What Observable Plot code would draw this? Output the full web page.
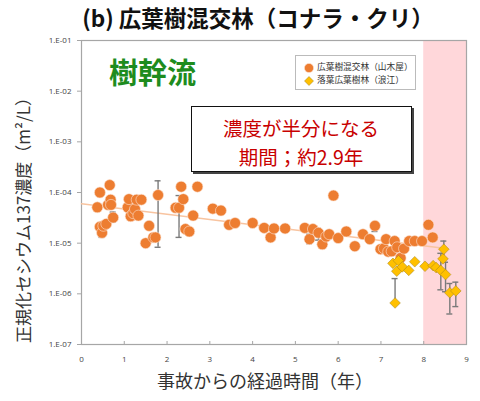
<!DOCTYPE html>
<html>
<head>
<meta charset="utf-8">
<script src="https://cdn.jsdelivr.net/npm/d3@7"></script>
<script src="https://cdn.jsdelivr.net/npm/@observablehq/plot@0.6"></script>
<style>
  body { margin: 0; background: #fff; font-family: "Noto Sans CJK JP", sans-serif; }
  #wrap { position: relative; width: 480px; height: 401px; overflow: hidden; }
  #wrap svg { position: absolute; left: 0; top: 0; }
  .ov { position: absolute; white-space: nowrap; line-height: 1; }
  #title { left: 258px; top: 17px; font-size: 22.5px; font-weight: bold; color: #111; transform: translate(-50%, -50%); }
  #ylab { left: 22px; top: 216px; font-size: 17px; color: #333; transform: translate(-50%, -50%) rotate(-90deg); }
  #xlab { left: 265px; top: 380px; font-size: 18px; color: #333; transform: translate(-50%, -50%); }
  #stem { left: 109px; top: 57px; font-size: 29px; font-weight: bold; color: #1e8c1e; }
  #legend { left: 295px; top: 55px; width: 121px; height: 35px; border: 1px solid #bbb; background: #fff; box-sizing: border-box; }
  #legend div { position: absolute; left: 21px; font-size: 8.7px; color: #333; }
  #legend svg { position: absolute; left: 7px; }
  #notebox { position: absolute; left: 191px; top: 106px; width: 221px; height: 66px; border: 1.5px solid #111;
             box-shadow: 2px 2px 0 #444; background: #fff; box-sizing: border-box; }
  .note { left: 301px; color: #c80000; font-size: 19.5px; transform: translate(-50%, -50%); }
</style>
</head>
<body>
<div id="wrap"></div>
<script>
// 広葉樹混交林（山木屋） - years since accident, concentration
const orangeT = [0.37, 0.43, 0.43, 0.48, 0.51, 0.58, 0.62, 0.66, 0.68, 0.69, 0.74,
  1.08, 1.11, 1.15, 1.21, 1.25, 1.29, 1.33, 1.40, 1.50, 1.58, 1.68, 1.73, 1.79,
  2.20, 2.28, 2.33, 2.38, 2.43, 2.52, 2.61, 2.71, 3.07, 3.26, 3.45, 3.59,
  4.00, 4.27, 4.42, 4.50, 4.76, 5.22, 5.33, 5.41, 5.54, 5.63, 5.72, 5.79, 5.89,
  6.00, 6.19, 6.39, 6.58, 6.74, 6.86, 6.99, 7.07, 7.12, 7.17, 7.25, 7.32, 7.38,
  7.46, 7.54, 7.66, 7.79, 7.96, 8.11, 8.21];
const orangeC = [5.1e-5, 1.0e-4, 2.1e-5, 1.6e-5, 2.2e-5, 2.4e-5, 5.7e-5, 1.4e-4, 7.2e-5, 5.7e-5, 3.2e-5,
  5.1e-5, 7.4e-5, 3.4e-5, 3.9e-5, 4.7e-5, 7.2e-5, 3.5e-5, 7.2e-5, 1.0e-5, 2.2e-5, 1.3e-5, 1.3e-5, 8.9e-5,
  5.0e-5, 5.0e-5, 1.3e-4, 7.4e-5, 1.9e-5, 1.7e-5, 3.5e-5, 1.3e-4, 4.8e-5, 4.4e-5, 2.3e-5, 2.5e-5,
  2.5e-5, 2.0e-5, 1.3e-5, 1.95e-5, 1.95e-5, 2.0e-5, 1.2e-5, 1.9e-5, 1.6e-5, 9.5e-6, 1.35e-5, 1.5e-5, 8.7e-5,
  1.26e-5, 1.7e-5, 8.7e-6, 1.5e-5, 1.2e-5, 2.2e-5, 7.6e-6, 7.9e-6, 1.2e-5, 6.8e-6, 6.9e-6, 1.1e-5, 8.3e-6,
  5.1e-6, 7.8e-6, 1.1e-5, 1.1e-5, 1.1e-5, 2.3e-5, 1.3e-5];
const orangeErrT = [0.48, 0.58, 0.74, 1.11, 1.79, 2.28, 5.33, 5.41, 5.54, 6.86];
const orangeErrLo = [1.3e-5, 2.0e-5, 2.6e-5, 5.5e-5, 8.3e-6, 1.3e-5, 9.8e-6, 1.5e-5, 1.15e-5, 1.7e-5];
const orangeErrHi = [2.0e-5, 2.6e-5, 4.1e-5, 7.9e-5, 1.7e-4, 8.7e-5, 1.5e-5, 2.2e-5, 1.95e-5, 2.45e-5];

// 落葉広葉樹林（浪江）
const yellowT = [7.28, 7.33, 7.37, 7.41, 7.50, 7.65, 7.79, 8.03, 8.22, 8.29, 8.40, 8.45, 8.47, 8.51, 8.61, 8.75];
const yellowC = [4.0e-6, 6.6e-7, 2.8e-6, 4.5e-6, 3.4e-6, 2.9e-6, 4.3e-6, 3.5e-6, 3.6e-6, 3.3e-6, 2.9e-6, 4.9e-6, 7.6e-6, 2.4e-6, 1.05e-6, 1.14e-6];
const yellowErrT = [7.33, 7.41, 8.40, 8.47, 8.51, 8.61, 8.75];
const yellowErrLo = [6.6e-7, 4.5e-6, 1.2e-6, 5.0e-6, 1.1e-6, 4.0e-7, 5.6e-7];
const yellowErrHi = [2.0e-6, 4.9e-6, 6.3e-6, 1.1e-5, 4.2e-6, 1.6e-6, 1.7e-6];

// fitted line (half-life ~2.9 y), end points
const trendT = [0.0, 8.47];
const trendC = [6.0e-5, 7.9e-6];

// period shaded in pink
const bandX = [8, 9];

const xTicks = [0, 1, 2, 3, 4, 5, 6, 7, 8, 9];
const yTicks = [1e-7, 1e-6, 1e-5, 1e-4, 1e-3, 1e-2, 1e-1];
const yTickLabels = ["1.E-07", "1.E-06", "1.E-05", "1.E-04", "1.E-03", "1.E-02", "1.E-01"];

const orange = orangeT.map((t, i) => ({t, c: orangeC[i]}));
const orangeErr = orangeErrT.map((t, i) => ({t, lo: orangeErrLo[i], hi: orangeErrHi[i]}));
const yellow = yellowT.map((t, i) => ({t, c: yellowC[i]}));
const yellowErr = yellowErrT.map((t, i) => ({t, lo: yellowErrLo[i], hi: yellowErrHi[i]}));
const trend = trendT.map((t, i) => ({t, c: trendC[i]}));
const errs = orangeErr.concat(yellowErr);

const plot = Plot.plot({
  width: 480,
  height: 401,
  marginLeft: 81,
  marginRight: 14,
  marginTop: 40,
  marginBottom: 57,
  style: {fontFamily: "'Open Sans', sans-serif", fontSize: "8px", color: "#444", background: "transparent"},
  x: {domain: [0, 9]},
  y: {type: "log", domain: [1e-7, 1e-1]},
  marks: [
    Plot.rect([bandX], {x1: d => d[0], x2: d => d[1], y1: 1e-7, y2: 1e-1, fill: "#ffd7da"}),
    Plot.frame({stroke: "#a6a6a6", strokeWidth: 1.2}),
    Plot.axisY({ticks: yTicks, tickSize: 4, tickPadding: 6, label: null,
      tickFormat: d => yTickLabels[yTicks.indexOf(d)], stroke: "#a6a6a6"}),
    Plot.axisX({ticks: xTicks, tickSize: -3, text: null, label: null, stroke: "#a6a6a6"}),
    Plot.axisX({ticks: xTicks, tickSize: 0, tickPadding: 12, label: null}),
    Plot.line(trend, {x: "t", y: "c", stroke: "#f8c4a0", strokeWidth: 1.5}),
    Plot.ruleX(errs, {x: "t", y1: "lo", y2: "hi", stroke: "#7a7a7a", strokeWidth: 1.4}),
    Plot.ruleY(errs, {y: "lo", x1: "t", x2: "t", insetLeft: -3, insetRight: -3, stroke: "#7a7a7a", strokeWidth: 1.4}),
    Plot.ruleY(errs, {y: "hi", x1: "t", x2: "t", insetLeft: -3, insetRight: -3, stroke: "#7a7a7a", strokeWidth: 1.4}),
    Plot.dot(orange, {x: "t", y: "c", r: 5.5, fill: "#ed7d31", stroke: "#fbe3d4", strokeWidth: 0.6}),
    Plot.dot(yellow, {x: "t", y: "c", symbol: "diamond2", r: 4.8, fill: "#ffc000", stroke: "#a08020", strokeWidth: 0.5})
  ]
});

const wrap = document.getElementById("wrap");
wrap.appendChild(plot);
wrap.insertAdjacentHTML("beforeend", `
  <div class="ov" id="title">(b) 広葉樹混交林（コナラ・クリ）</div>
  <div class="ov" id="stem">樹幹流</div>
  <div class="ov" id="legend">
    <svg width="12" height="12" style="top:6px"><circle cx="6" cy="6" r="4.6" fill="#ed7d31" stroke="#fbe3d4" stroke-width="0.6"/></svg>
    <div style="top:7px">広葉樹混交林（山木屋）</div>
    <svg width="12" height="12" style="top:19px"><path d="M6,1.5L10.5,6L6,10.5L1.5,6Z" fill="#ffc000" stroke="#a08020" stroke-width="0.5"/></svg>
    <div style="top:20px">落葉広葉樹林（浪江）</div>
  </div>
  <div id="notebox"></div>
  <div class="ov note" style="top:128px">濃度が半分になる</div>
  <div class="ov note" style="top:157px">期間；約2.9年</div>
  <div class="ov" id="ylab">正規化セシウム137濃度（m²/L）</div>
  <div class="ov" id="xlab">事故からの経過時間（年）</div>
`);
</script>
</body>
</html>
